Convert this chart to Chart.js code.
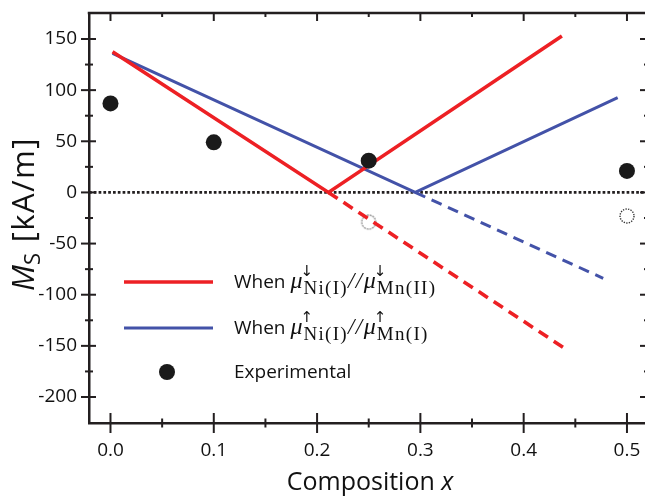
<!DOCTYPE html>
<html>
<head>
<meta charset="utf-8">
<script src="https://cdn.jsdelivr.net/npm/chart.js@4.4.1/dist/chart.umd.min.js"></script>
<style>
  html, body { margin: 0; padding: 0; overflow: hidden; background: #fff; }
  #wrap { width: 660px; height: 498px; }
</style>
</head>
<body>
<div id="wrap"><canvas id="c" width="660" height="498"></canvas></div>
<script>
// values
const expX = [0, 0.1, 0.25, 0.5];
const expY = [87, 49, 31, 21];
const openX = [0.25, 0.5];
const openY = [-29, -23];

const redSolidX = [0.002, 0.211, 0.437];
const redSolidY = [137.5, 0, 152.8];
const redDashX = [0.211, 0.439];
const redDashY = [0, -152];

const blueSolidX = [0.002, 0.295, 0.491];
const blueSolidY = [136, 0, 92.6];
const blueDashX = [0.295, 0.477];
const blueDashY = [0, -84];

const xTicks = [0, 0.1, 0.2, 0.3, 0.4, 0.5];
const xMinor = [0.05, 0.15, 0.25, 0.35, 0.45];
const yTicks = [-200, -150, -100, -50, 0, 50, 100, 150];
const yMinor = [-225, -175, -125, -75, -25, 25, 75, 125, 175];

const X_MIN = -0.0208, X_MAX = 0.5223;
const Y_MIN = -225.4, Y_MAX = 175.4;

const RED = '#ED2024';
const BLUE = '#4352A8';
const INK = '#231F20';
const SANS = "'Open Sans', 'Noto Sans', sans-serif";
const SERIF = "'Liberation Serif', 'DejaVu Serif', serif";

const pts = (xs, ys) => xs.map((x, i) => ({ x: x, y: ys[i] }));

// dotted open circles used as point images
function ring(color, width, dash) {
  const cv = document.createElement('canvas');
  cv.width = 18; cv.height = 18;
  const g = cv.getContext('2d');
  g.strokeStyle = color;
  g.lineWidth = width;
  g.setLineDash(dash);
  g.beginPath();
  g.arc(9, 9, 7, 0, Math.PI * 2);
  g.stroke();
  return cv;
}
const openStyles = [ring('#9a9a9a', 1.4, [2, 0.8]), ring('#333', 1.4, [1.3, 1.3])];

// rich text: draws (or just measures) runs of differently styled text
function rich(ctx, x, y, parts, draw) {
  let cx = x;
  for (const p of parts) {
    ctx.letterSpacing = p.ls || '0px';
    if (p.sub !== undefined) {
      ctx.font = p.subFont;
      const w1 = ctx.measureText(p.sub).width;
      if (draw) ctx.fillText(p.sub, cx, y + p.subDy);
      let w2 = 0;
      if (p.sup) {
        ctx.letterSpacing = '0px';
        ctx.font = p.supFont;
        w2 = ctx.measureText(p.sup).width;
        if (draw) ctx.fillText(p.sup, cx + (p.supDx || 0), y + p.supDy);
      }
      cx += Math.max(w1, w2) + (p.kern || 0);
    } else {
      ctx.font = p.font;
      if (draw) ctx.fillText(p.t, cx, y + (p.dy || 0));
      cx += ctx.measureText(p.t).width + (p.kern || 0);
    }
  }
  ctx.letterSpacing = '0px';
  return cx - x;
}

function muLine(arrow, sub2) {
  const sub = (s) => ({ sub: s, subFont: '19px ' + SERIF, subDy: 6, ls: '1.3px',
    sup: arrow, supFont: '15px "DejaVu Sans"', supDy: -12, supDx: -3, kern: 0 });
  return [
    { t: 'When ', font: '19px ' + SANS },
    { t: 'μ', font: 'italic 24px ' + SERIF, kern: 1 },
    sub('Ni(I)'),
    { t: '//', font: 'italic 23px ' + SERIF, ls: '1.5px', kern: 0 },
    { t: 'μ', font: 'italic 24px ' + SERIF, kern: 1 },
    sub(sub2)
  ];
}

const decor = {
  id: 'decor',
  afterDraw(chart) {
    const ctx = chart.ctx;
    const xs = chart.scales.x, ys = chart.scales.y;
    const a = chart.chartArea;
    ctx.save();
    ctx.strokeStyle = INK;
    ctx.fillStyle = INK;
    ctx.lineCap = 'butt';

    // top frame
    ctx.lineWidth = 2.5;
    ctx.beginPath();
    ctx.moveTo(a.left - 1.25, a.top);
    ctx.lineTo(a.right + 5, a.top);
    ctx.stroke();

    ctx.lineWidth = 2;
    const tick = (x1, y1, x2, y2) => { ctx.beginPath(); ctx.moveTo(x1, y1); ctx.lineTo(x2, y2); ctx.stroke(); };
    xTicks.forEach(v => {
      const px = xs.getPixelForValue(v);
      tick(px, a.bottom - 10, px, a.bottom + 10);
      tick(px, a.top, px, a.top + 8);
    });
    xMinor.forEach(v => {
      const px = xs.getPixelForValue(v);
      tick(px, a.bottom - 4.5, px, a.bottom + 4.5);
      tick(px, a.top, px, a.top + 4);
    });
    yTicks.forEach(v => {
      const py = ys.getPixelForValue(v);
      tick(a.left - 8, py, a.left + 7, py);
      tick(a.right - 10, py, a.right, py);
    });
    yMinor.forEach(v => {
      const py = ys.getPixelForValue(v);
      if (py < a.top + 2 || py > a.bottom - 2) return;
      tick(a.left - 4, py, a.left + 4, py);
      tick(a.right - 6, py, a.right, py);
    });

    // axis titles
    ctx.fillStyle = '#111';
    ctx.textBaseline = 'alphabetic';
    ctx.textAlign = 'left';
    const xt = [
      { t: 'Composition ', font: '25px ' + SANS },
      { t: 'x', font: 'italic 25px ' + SANS }
    ];
    const wx = rich(ctx, 0, 0, xt, false);
    rich(ctx, 370 - wx / 2, 490, xt, true);

    const yt = [
      { t: 'M', font: 'italic 31px ' + SANS },
      { sub: 'S', subFont: '22px ' + SANS, subDy: 6, kern: 1 },
      { t: ' [kA/m]', font: '31px ' + SANS, ls: '1.5px' }
    ];
    ctx.save();
    ctx.translate(34, 214);
    ctx.rotate(-Math.PI / 2);
    const wy = rich(ctx, 0, 0, yt, false);
    rich(ctx, -wy / 2, 0, yt, true);
    ctx.restore();

    // legend
    ctx.lineWidth = 3.5;
    ctx.strokeStyle = RED;
    tick(124, 282, 213, 282);
    ctx.lineWidth = 3;
    ctx.strokeStyle = BLUE;
    tick(124, 328, 213, 328);
    ctx.fillStyle = '#1a1a1a';
    ctx.beginPath();
    ctx.arc(167, 372, 8, 0, Math.PI * 2);
    ctx.fill();

    ctx.fillStyle = '#111';
    rich(ctx, 234, 288, muLine('↓', 'Mn(II)'), true);
    rich(ctx, 234, 334, muLine('↑', 'Mn(I)'), true);
    rich(ctx, 234, 378, [{ t: 'Experimental', font: '19px ' + SANS }], true);
    ctx.restore();
  }
};

new Chart(document.getElementById('c'), {
  type: 'scatter',
  data: {
    datasets: [
      {
        label: 'Experimental',
        data: pts(expX, expY),
        pointRadius: 8,
        pointHoverRadius: 8,
        backgroundColor: '#1a1a1a',
        borderWidth: 0,
        order: 0
      },
      {
        label: 'red',
        data: pts(redSolidX, redSolidY),
        showLine: true,
        borderColor: RED,
        borderWidth: 3.6,
        pointRadius: 0,
        borderJoinStyle: 'miter',
        order: 1
      },
      {
        label: 'red dashed',
        data: pts(redDashX, redDashY),
        showLine: true,
        borderColor: RED,
        borderWidth: 3.6,
        borderDash: [11, 7],
        pointRadius: 0,
        order: 1
      },
      {
        label: 'blue',
        data: pts(blueSolidX, blueSolidY),
        showLine: true,
        borderColor: BLUE,
        borderWidth: 3,
        pointRadius: 0,
        borderJoinStyle: 'miter',
        order: 1
      },
      {
        label: 'blue dashed',
        data: pts(blueDashX, blueDashY),
        showLine: true,
        borderColor: BLUE,
        borderWidth: 3,
        borderDash: [11, 7],
        pointRadius: 0,
        order: 1
      },
      {
        label: 'zero',
        data: [{ x: X_MIN, y: 0 }, { x: X_MAX, y: 0 }],
        showLine: true,
        borderColor: INK,
        borderWidth: 2.7,
        borderDash: [2.7, 2.1],
        pointRadius: 0,
        order: 2
      },
      {
        label: 'open',
        data: pts(openX, openY),
        pointStyle: openStyles,
        pointRadius: 8,
        order: 3
      }
    ]
  },
  options: {
    responsive: false,
    animation: false,
    devicePixelRatio: 1,
    layout: { padding: { top: 13, right: 10, left: 0, bottom: 0 } },
    plugins: { legend: { display: false }, tooltip: { enabled: false } },
    scales: {
      x: {
        type: 'linear',
        min: X_MIN,
        max: X_MAX,
        afterBuildTicks: s => { s.ticks = xTicks.map(v => ({ value: v })); },
        afterFit: s => { s.height = 75; s.paddingLeft = 0; s.paddingRight = 0; },
        grid: { display: false, tickLength: 0 },
        border: { display: true, color: INK, width: 2.5 },
        ticks: {
          font: { family: SANS, size: 19 },
          color: '#111',
          padding: 16,
          maxRotation: 0,
          autoSkip: false,
          callback: v => v.toFixed(1)
        }
      },
      y: {
        type: 'linear',
        min: Y_MIN,
        max: Y_MAX,
        afterBuildTicks: s => { s.ticks = yTicks.map(v => ({ value: v })); },
        afterFit: s => { s.width = 89; s.paddingTop = 0; s.paddingBottom = 0; },
        grid: { display: false, tickLength: 0 },
        border: { display: true, color: INK, width: 2.5 },
        ticks: {
          font: { family: SANS, size: 19 },
          color: '#111',
          padding: 12,
          autoSkip: false,
          callback: v => String(v)
        }
      }
    }
  },
  plugins: [decor]
});
</script>
</body>
</html>
